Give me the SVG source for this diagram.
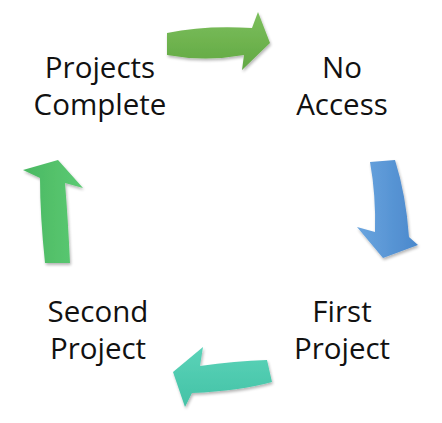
<svg xmlns="http://www.w3.org/2000/svg" width="442" height="423" viewBox="0 0 442 423">
<style>
text{font-family:"Open Sans","Liberation Sans",sans-serif;font-size:29.5px;fill:#111;text-anchor:middle}
</style>
<defs>
<linearGradient id="gTop" x1="0" y1="0" x2="0" y2="1"><stop offset="0" stop-color="#7cbf5c"/><stop offset="1" stop-color="#62a843"/></linearGradient>
<linearGradient id="gRight" x1="0" y1="0" x2="1" y2="0"><stop offset="0" stop-color="#6aa5df"/><stop offset="1" stop-color="#4a88cc"/></linearGradient>
<linearGradient id="gLeft" x1="0" y1="0" x2="1" y2="0"><stop offset="0" stop-color="#4ab862"/><stop offset="1" stop-color="#5cca73"/></linearGradient>
<linearGradient id="gBottom" x1="0" y1="0" x2="0" y2="1"><stop offset="0" stop-color="#5ad3b8"/><stop offset="1" stop-color="#44c2a6"/></linearGradient>
<filter id="sh" x="-20%" y="-20%" width="140%" height="140%"><feGaussianBlur in="SourceAlpha" stdDeviation="1.5"/><feOffset dx="1" dy="2"/><feComponentTransfer><feFuncA type="linear" slope="0.3"/></feComponentTransfer><feMerge><feMergeNode/><feMergeNode in="SourceGraphic"/></feMerge></filter>
</defs>
<g id="connectors" filter="url(#sh)">
<path id="arrow-top" fill="url(#gTop)" d="M167,33 Q205,25 252,28 L258,12 L270,43 L242,70 L244,55 Q205,62 167,55 Z"/>
<path id="arrow-right" fill="url(#gRight)" d="M370,162 L395,160 Q406,195 409,237 L418,245 L383,258 L357,227 L375,232 Q376,195 370,162 Z"/>
<path id="arrow-bottom" fill="url(#gBottom)" d="M267,360 Q235,361 200,366 L203,347 L173,372 L185,407 L192,393 Q240,391 272,382 Z"/>
<path id="arrow-left" fill="url(#gLeft)" d="M45,263 Q40,215 40,178 L23,170 L58,160 L83,188 L65,183 Q68,220 70,263 Z"/>
</g>
<g id="node-projects-complete"><text x="100" y="78">Projects</text><text x="100" y="115">Complete</text></g>
<g id="node-no-access"><text x="342" y="78">No</text><text x="342" y="115">Access</text></g>
<g id="node-first-project"><text x="342" y="322">First</text><text x="342" y="359">Project</text></g>
<g id="node-second-project"><text x="98" y="322">Second</text><text x="98" y="359">Project</text></g>
</svg>
